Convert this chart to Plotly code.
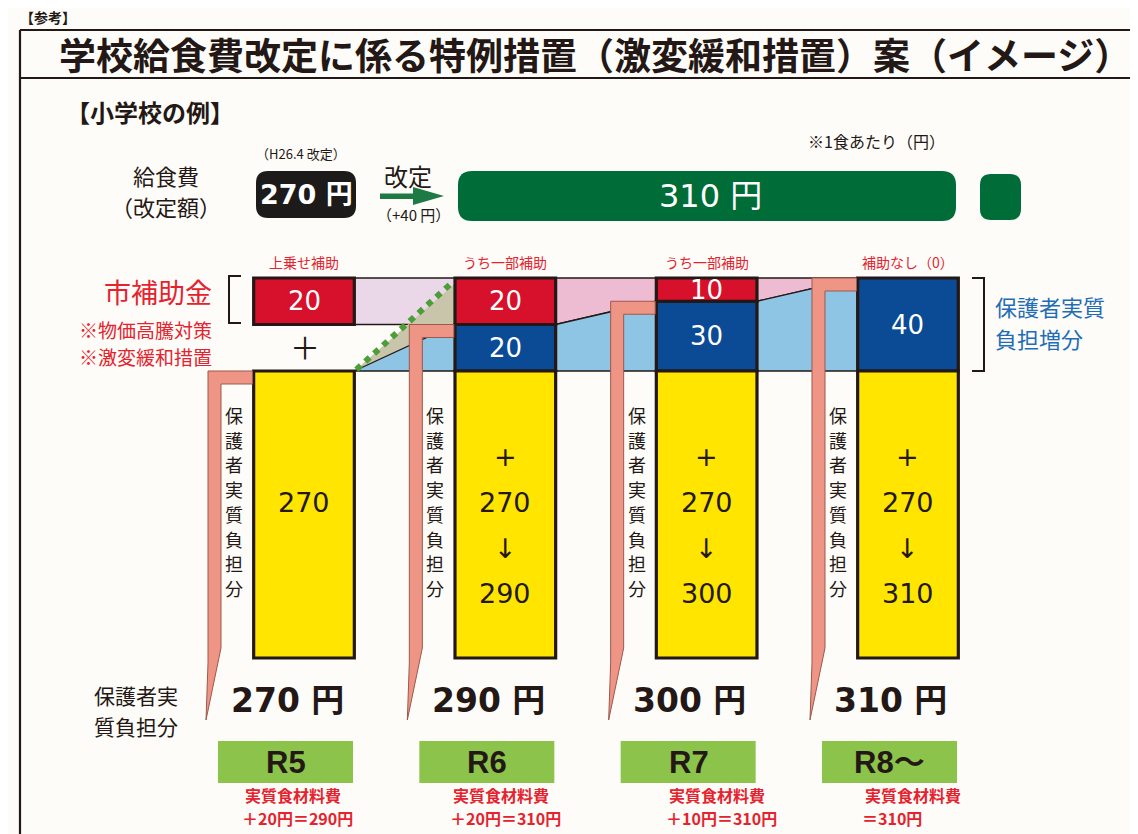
import plotly.graph_objects as go

# ---------------- data ----------------
YEARS = ["R5", "R6", "R7", "R8～"]
OLD_FEE = 270
NEW_FEE = 310
CITY_SUBSIDY = [20, 20, 10, 0]          # 市補助金
PARENT_INCREASE = [0, 20, 30, 40]       # 保護者実質負担増分
PARENT_BURDEN = [270, 290, 300, 310]    # 保護者実質負担分
FOOD_COST = [290, 310, 310, 310]        # 実質食材料費
SUBSIDY_LABELS = ["上乗せ補助", "うち一部補助", "うち一部補助", "補助なし（0）"]

# ---------------- layout geometry ----------------
W, H = 1138, 834
X_C0, X_STEP = 296.0, 201.33
TOP_ZERO_PX, TOP_PX_PER = 363.0, 93.0 / 40.0
YEL_TOP_PX, YEL_BOT_PX = 363.0, 650.0
BAR_W = 0.5
INC = NEW_FEE - OLD_FEE

DARK = "#231815"
RED = "#d7102b"
RED_TXT = "#e5222e"
BLUE = "#0b4b96"
LBLUE = "#8ec4e4"
YELLOW = "#ffe500"
PINK = "#eebcd2"
PINK2 = "#ead8e8"
GREY = "#c9c5ab"
SALMON = "#ef9585"
GREEN = "#006d39"
LGREEN = "#8cc34b"
TXT_BLUE = "#1f6db6"
JP = "Noto Sans CJK JP"
NUM = "DejaVu Sans, Noto Sans CJK JP"
BG = "#fdfcf8"


def cpx(i):
    return X_C0 + i * X_STEP


def px(x):
    return x / W


def py(y):
    return 1 - y / H


def P(x, y):
    return f"{px(x):.5f},{py(y):.5f}"


def poly(pts):
    return "M " + " L ".join(P(x, y) for x, y in pts) + " Z"


def dpoly(xv, yv):
    return "M " + " L ".join(f"{a},{b}" for a, b in zip(xv, yv)) + " Z"


def rrect(x0, y0, x1, y1, r):
    return (f"M {P(x0 + r, y0)} L {P(x1 - r, y0)} Q {P(x1, y0)} {P(x1, y0 + r)} "
            f"L {P(x1, y1 - r)} Q {P(x1, y1)} {P(x1 - r, y1)} L {P(x0 + r, y1)} "
            f"Q {P(x0, y1)} {P(x0, y1 - r)} L {P(x0, y0 + r)} Q {P(x0, y0)} {P(x0 + r, y0)} Z")


shapes = []
ann = []


def T(x, y, text, size, color=DARK, family=JP, xanchor="center", yanchor="middle", align="center"):
    ann.append(dict(x=px(x), y=py(y), xref="paper", yref="paper", text=text, showarrow=False,
                    font=dict(size=size, color=color, family=family),
                    xanchor=xanchor, yanchor=yanchor, align=align))


def S(path, fill=None, line=None, lw=0, layer="below"):
    shapes.append(dict(type="path", path=path, xref="paper", yref="paper",
                       fillcolor=fill if fill else "rgba(0,0,0,0)",
                       line=dict(color=line if line else "rgba(0,0,0,0)", width=lw),
                       layer=layer))


def SD(xv, yv, fill, lw=1.3):
    shapes.append(dict(type="path", path=dpoly(xv, yv), xref="x", yref="y", fillcolor=fill,
                       line=dict(color=DARK if lw else "rgba(0,0,0,0)", width=lw), layer="below"))


fig = go.Figure()
xs = list(range(len(YEARS)))
R = BAR_W / 2
PI = PARENT_INCREASE
SUB0_BOTTOM = INC - CITY_SUBSIDY[0]
DOT_TOP = INC * 0.94

# connecting bands (shapes in the bar axes' data coordinates, drawn beneath the bars)
SD([0 + R, 1 - R, 1 - R, 0 + R], [INC, INC, SUB0_BOTTOM, SUB0_BOTTOM], PINK2)
SD([1 + R, 1 + R, 3 - R, 2 + R, 2 - R], [PI[1], INC, INC, PI[2], PI[2]], PINK)
SD([0 + R, 1 - R, 1 - R], [PI[0], DOT_TOP, PI[1]], GREY, lw=0)
SD([0 + R, 1 - R, 1 + R, 2 - R, 2 + R, 3 - R, 3 - R, 0 + R],
   [PI[0], PI[1], PI[1], PI[2], PI[2], PI[3], 0, 0], LBLUE)
shapes.append(dict(type="line", xref="x", yref="y", x0=0 + R + 0.01, y0=PI[0] + 0.6,
                   x1=1 - R - 0.02, y1=DOT_TOP, layer="below",
                   line=dict(color="#4c9e38", width=6, dash="6px,6px")))

bar_line = dict(color=DARK, width=3.2)
fig.add_trace(go.Bar(x=xs, y=[v if v else None for v in PARENT_INCREASE], base=0, width=BAR_W,
                     marker=dict(color=BLUE, line=bar_line), hoverinfo="skip"))
fig.add_trace(go.Bar(x=xs, y=[v if v else None for v in CITY_SUBSIDY],
                     base=[INC - v for v in CITY_SUBSIDY], width=BAR_W,
                     marker=dict(color=RED, line=bar_line), hoverinfo="skip"))
fig.add_trace(go.Bar(x=xs, y=[OLD_FEE] * len(xs), base=0, width=BAR_W, yaxis="y2",
                     marker=dict(color=YELLOW, line=bar_line), hoverinfo="skip"))

# bar labels (data coords)
for i in xs:
    if PARENT_INCREASE[i]:
        ann.append(dict(x=i, y=PARENT_INCREASE[i] / 2, xref="x", yref="y", text=str(PARENT_INCREASE[i]),
                        showarrow=False, font=dict(size=26, color="white", family=NUM)))
    if CITY_SUBSIDY[i]:
        ann.append(dict(x=i, y=INC - CITY_SUBSIDY[i] / 2, xref="x", yref="y", text=str(CITY_SUBSIDY[i]),
                        showarrow=False, font=dict(size=26, color="white", family=NUM)))
    if PARENT_BURDEN[i] == OLD_FEE:
        lines = [(str(OLD_FEE), 146)]
    else:
        lines = [("+", 190), (str(OLD_FEE), 146), ("↓", 103), (str(PARENT_BURDEN[i]), 61)]
    for t, yv in lines:
        ann.append(dict(x=i, y=yv, xref="x", yref="y2", text=t, showarrow=False,
                        font=dict(size=27, color=DARK, family=NUM)))

# salmon L brackets with vertical label
VLABEL = "保護者実質負担分"
for i in xs:
    c = cpx(i)
    L = c - 96
    top = TOP_ZERO_PX - PARENT_INCREASE[i] * TOP_PX_PER
    bl = c - 51.5
    S(poly([(L, top), (bl, top), (bl, top + 13), (L + 13, top + 13), (L + 13, 640), (L - 2, 712), (L, 655)]),
      fill=SALMON, line="#9a5a4e", lw=1, layer="above")
    for k, ch in enumerate(VLABEL):
        T(c - 70, 407 + k * 24.7, ch, 18)

# frame
S(f"M {P(12, 22)} L {P(1130, 22)} M {P(12, 70)} L {P(1130, 70)} M {P(12, 22)} L {P(12, 840)} "
  f"M {P(1130, 22)} L {P(1130, 840)}", line=DARK, lw=2.2)
T(40, 9, "<b>【参考】</b>", 14)
T(587, 46, "<b>学校給食費改定に係る特例措置（激変緩和措置）案（イメージ）</b>", 37)
T(56, 103, "<b>【小学校の例】</b>", 24, xanchor="left")
T(868, 133, "※1食あたり（円）", 16)

# fee row
T(293, 145, "（H26.4 改定）", 13)
T(158, 167, "給食費", 22)
T(158, 198, "（改定額）", 22)
S(rrect(248, 163, 348, 210, 12), fill="#1d1a1a")
T(298, 187, f"<b>{OLD_FEE} 円</b>", 27, color="white", family=NUM)
T(400, 168, "改定", 24)
S(poly([(372, 185.5), (405, 185.5), (405, 179), (436, 188), (405, 197), (405, 191), (372, 191)]), fill="#1e7a45")
T(405, 206, f"（+{INC} 円）", 15)
S(rrect(450, 163, 948, 213, 14), fill=GREEN)
T(702, 188, f"{NEW_FEE} 円", 32, color="white", family=NUM)
S(rrect(972, 166, 1013, 212, 11), fill=GREEN)

# subsidy labels
for i in xs:
    T(cpx(i), 254, SUBSIDY_LABELS[i], 14, color=RED_TXT)
T(206, 283, "市補助金", 27, color=RED_TXT, xanchor="right")
T(206, 321, "※物価高騰対策", 19, color=RED_TXT, xanchor="right")
T(206, 348, "※激変緩和措置", 19, color=RED_TXT, xanchor="right")
S(f"M {P(233, 268)} L {P(221, 268)} L {P(221, 315)} L {P(233, 315)}", line=DARK, lw=2)
T(297, 338, "＋", 30)
S(f"M {P(964, 270)} L {P(976, 270)} L {P(976, 363)} L {P(964, 363)}", line=DARK, lw=2)
T(985, 298, "保護者実質", 22, color=TXT_BLUE, xanchor="left")
T(985, 330, "負担増分", 22, color=TXT_BLUE, xanchor="left")

# bottom rows
T(128, 687, "保護者実", 21)
T(128, 718, "質負担分", 21)
FOOT_DX = [-61, -54, -40, -45]
for i in xs:
    c = cpx(i)
    T(c - 17, 692, f"<b>{PARENT_BURDEN[i]} 円</b>", 33, family=NUM)
    S(poly([(c - 86, 733), (c + 49, 733), (c + 49, 775), (c - 86, 775)]), fill=LGREEN)
    T(c - 18, 754, f"<b>{YEARS[i]}</b>", 31, family="Liberation Sans, Noto Sans CJK JP")
    line2 = (f"＋{CITY_SUBSIDY[i]}円＝{FOOD_COST[i]}円" if CITY_SUBSIDY[i] else f"＝{FOOD_COST[i]}円")
    T(c + FOOT_DX[i], 787, "<b>実質食材料費</b>", 16, color=RED_TXT, xanchor="left")
    T(c + FOOT_DX[i] - 3, 810, f"<b>{line2}</b>", 16, color=RED_TXT, xanchor="left")

k2 = (YEL_BOT_PX - YEL_TOP_PX) / OLD_FEE
fig.update_layout(
    width=W, height=H, margin=dict(l=0, r=0, t=0, b=0),
    paper_bgcolor=BG, plot_bgcolor="rgba(0,0,0,0)", showlegend=False, barmode="overlay",
    xaxis=dict(range=[-X_C0 / X_STEP, (W - X_C0) / X_STEP], domain=[0, 1], visible=False, fixedrange=True),
    yaxis=dict(range=[-3, INC + 3], visible=False, fixedrange=True,
               domain=[py(TOP_ZERO_PX + 3 * TOP_PX_PER), py(TOP_ZERO_PX - (INC + 3) * TOP_PX_PER)]),
    yaxis2=dict(range=[-6, OLD_FEE + 6], visible=False, fixedrange=True, anchor="x",
                domain=[py(YEL_BOT_PX + 6 * k2), py(YEL_TOP_PX - 6 * k2)]),
    shapes=shapes, annotations=ann, hovermode=False,
)
fig.write_html("out.html", config={"displayModeBar": False})
